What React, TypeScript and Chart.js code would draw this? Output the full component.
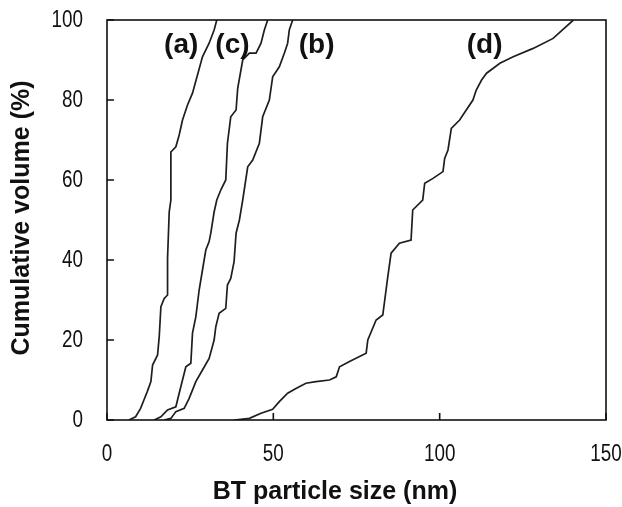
import React, { useEffect, useRef } from "react";
import { Chart, registerables } from "chart.js";

Chart.register(...registerables);

const seriesNames = ["(a)", "(b)", "(c)", "(d)"];

const aX = [6.6, 8.6, 10.1, 11.1, 12.1, 13.2, 13.7, 15.2, 15.7, 16.2, 17.2, 18.2, 18.2, 18.7, 19.2, 19.2, 20.7, 21.7, 22.7, 24.2, 25.7, 27.2, 28.7, 30.7, 32.2, 33.0];
const aY = [0, 0.8, 2.9, 5, 7.1, 9.6, 13.75, 16.25, 20.8, 28.3, 30.4, 31.25, 40.4, 52, 55, 67, 68.3, 71.25, 75, 78.75, 81.7, 86.25, 90.8, 94.2, 97.5, 100];

const bX = [17.2, 19.2, 20.7, 23.2, 24.7, 26.7, 28.7, 30.7, 32.2, 32.7, 33.7, 35.7, 36.2, 37.2, 38.2, 38.8, 39.8, 40.8, 42.3, 43.8, 45.8, 46.8, 48.8, 49.8, 51.8, 53.3, 54.3, 54.8, 55.8];
const bY = [0, 0.4, 2.1, 2.9, 5.4, 9.6, 12.5, 15.4, 20, 23.3, 26.7, 27.9, 33.75, 35.4, 39.6, 46.7, 50, 55, 63.3, 65, 69.2, 75.8, 80, 85.8, 88.3, 91.7, 94.2, 97.5, 100];

const cX = [14.2, 16.2, 18.2, 20.7, 21.7, 22.7, 23.7, 25.2, 25.7, 26.7, 27.7, 28.7, 29.7, 30.7, 31.2, 32.2, 33.0, 34.2, 35.7, 36.2, 37.2, 38.8, 39.3, 40.8, 42.8, 44.8, 46.3, 47.3, 48.3];
const cY = [0, 0.8, 2.5, 3.3, 6.7, 10, 13.3, 14.2, 21.7, 25.8, 32.5, 37.5, 42.5, 44.6, 46.7, 52, 55, 57.5, 60, 69.2, 75.8, 77.5, 83, 90, 91.7, 91.7, 94.2, 97.5, 100];

const dX = [38.3, 42.8, 46.3, 49.8, 51.8, 54.3, 56.8, 59.8, 62.8, 66.9, 68.9, 69.9, 72.9, 77.9, 78.4, 80.9, 82.9, 84.4, 85.4, 87.9, 91.4, 91.9, 94.9, 95.5, 98, 101, 101.5, 102.5, 103.5, 106, 108, 110, 111, 112.6, 114.1, 118.1, 122.1, 128.1, 134.1, 140.2];
const dY = [0, 0.4, 1.7, 2.7, 4.6, 6.7, 7.9, 9.2, 9.6, 10, 10.8, 13.3, 14.6, 16.7, 20, 25, 26.25, 35.8, 41.7, 44.2, 45, 52.5, 55, 59.2, 60.4, 62.1, 65.4, 67.5, 72.9, 75, 77.5, 80, 82.5, 85, 86.7, 89.2, 90.8, 92.9, 95.4, 100];

// label anchor positions (data units)
const labelX = [22.3, 63, 37.7, 113.5];
const labelY = [93.75, 93.75, 93.75, 93.75];

const xTicks = [0, 50, 100, 150];
const yTicks = [0, 20, 40, 60, 80, 100];

const xTitle = "BT particle size (nm)";
const yTitle = "Cumulative volume (%)";

const LINE = "#1e1e1e";
const FONT = '"Liberation Sans", Arial, sans-serif';
const NARROW = 0.82;

const toPts = (xs: number[], ys: number[]) => xs.map((x, i) => ({ x, y: ys[i] }));

const decorPlugin = {
  id: "decor",
  afterDraw(chart: any) {
    const { ctx, chartArea, scales } = chart;
    const xs = scales.x;
    const ys = scales.y;
    ctx.save();
    ctx.strokeStyle = "#111";
    ctx.lineWidth = 1.6;
    ctx.strokeRect(chartArea.left, chartArea.top, chartArea.right - chartArea.left, chartArea.bottom - chartArea.top);
    // inward ticks
    ctx.beginPath();
    xTicks.forEach((v) => {
      const p = xs.getPixelForValue(v);
      ctx.moveTo(p, chartArea.bottom);
      ctx.lineTo(p, chartArea.bottom - 7);
    });
    yTicks.forEach((v) => {
      const p = ys.getPixelForValue(v);
      ctx.moveTo(chartArea.left, p);
      ctx.lineTo(chartArea.left + 7, p);
    });
    ctx.stroke();
    // tick labels (narrow)
    ctx.fillStyle = "#111";
    ctx.font = "23px " + FONT;
    ctx.textBaseline = "middle";
    ctx.textAlign = "center";
    xTicks.forEach((v) => {
      const p = xs.getPixelForValue(v);
      ctx.save();
      ctx.translate(p, 455);
      ctx.scale(NARROW, 1);
      ctx.fillText(String(v), 0, 0);
      ctx.restore();
    });
    ctx.textAlign = "right";
    yTicks.forEach((v) => {
      const p = ys.getPixelForValue(v);
      ctx.save();
      ctx.translate(chartArea.left - 24, p + 1);
      ctx.scale(NARROW, 1);
      ctx.fillText(String(v), 0, 0);
      ctx.restore();
    });
    // series labels
    ctx.font = "bold 28px " + FONT;
    ctx.textAlign = "center";
    seriesNames.forEach((n, i) => {
      ctx.fillText(n, xs.getPixelForValue(labelX[i]), ys.getPixelForValue(labelY[i]));
    });
    // axis titles
    ctx.font = "bold 25px " + FONT;
    ctx.fillText(xTitle, 335, 492);
    ctx.translate(22, 218);
    ctx.rotate(-Math.PI / 2);
    ctx.fillText(yTitle, 0, 0);
    ctx.restore();
  },
};

const zeroPad = (s: any) => {
  s.paddingLeft = 0;
  s.paddingRight = 0;
  s.paddingTop = 0;
  s.paddingBottom = 0;
};

export default function App() {
  const ref = useRef<HTMLCanvasElement>(null);
  useEffect(() => {
    if (!ref.current) return;
    const mk = (xs: number[], ys: number[], name: string) => ({
      label: name,
      data: toPts(xs, ys),
      borderColor: LINE,
      borderWidth: 1.7,
      pointRadius: 0,
      fill: false,
      tension: 0,
    });
    const chart = new Chart(ref.current, {
      type: "line",
      data: {
        datasets: [
          mk(aX, aY, seriesNames[0]),
          mk(bX, bY, seriesNames[1]),
          mk(cX, cY, seriesNames[2]),
          mk(dX, dY, seriesNames[3]),
        ],
      },
      options: {
        responsive: false,
        animation: false,
        layout: { padding: { left: 0, right: 16, top: 20, bottom: 0 } },
        plugins: { legend: { display: false }, tooltip: { enabled: false } },
        scales: {
          x: {
            type: "linear",
            min: 0,
            max: 150,
            afterBuildTicks: (s: any) => {
              s.ticks = xTicks.map((v) => ({ value: v }));
            },
            afterFit: (s: any) => {
              s.height = 87;
              zeroPad(s);
            },
            grid: { display: false, drawTicks: false },
            border: { display: false },
            ticks: { display: false },
          },
          y: {
            type: "linear",
            min: 0,
            max: 100,
            afterBuildTicks: (s: any) => {
              s.ticks = yTicks.map((v) => ({ value: v }));
            },
            afterFit: (s: any) => {
              s.width = 107;
              zeroPad(s);
            },
            grid: { display: false, drawTicks: false },
            border: { display: false },
            ticks: { display: false },
          },
        },
      },
      plugins: [decorPlugin],
    } as any);
    return () => chart.destroy();
  }, []);
  return (
    <div style={{ position: "absolute", left: 0, top: 0, width: 622, height: 507, background: "#fff" }}>
      <canvas ref={ref} width={622} height={507} style={{ display: "block" }} />
    </div>
  );
}
